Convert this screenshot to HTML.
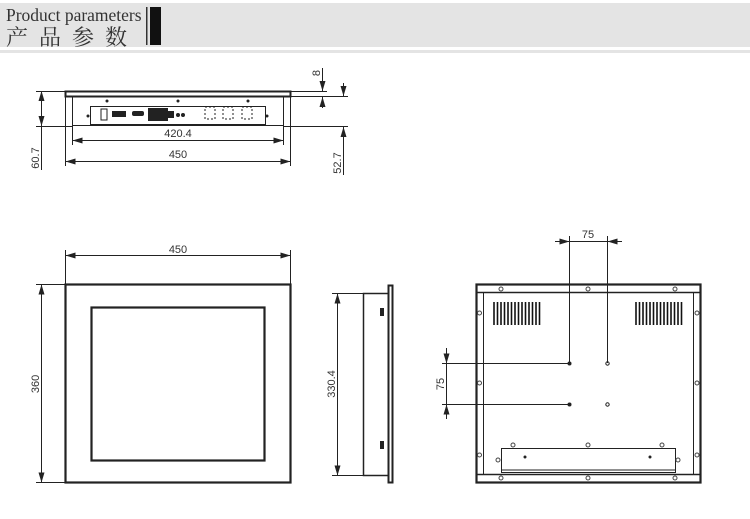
<!DOCTYPE html>
<html><head><meta charset="utf-8"><style>
html,body{margin:0;padding:0;background:#fff;width:750px;height:519px;overflow:hidden}
svg{display:block}
text{font-family:"Liberation Sans","DejaVu Sans",sans-serif;fill:#333}
</style></head><body>
<svg width="750" height="519" viewBox="0 0 750 519" xmlns="http://www.w3.org/2000/svg">
<defs>
<marker id="a" viewBox="0 0 10 6" refX="10" refY="3" markerWidth="10" markerHeight="6" orient="auto-start-reverse" markerUnits="userSpaceOnUse"><path d="M0,0L10,3L0,6z" fill="#222"/></marker>
</defs>
<rect x="0" y="3" width="750" height="44" fill="#e4e4e4"/>
<rect x="0" y="50" width="750" height="3" fill="#e4e4e4"/>
<text x="6" y="21" style="font-family:'Liberation Serif',serif" font-size="17.5" fill="#444">Product parameters</text>
<text x="6" y="45" style="font-family:'Liberation Serif','Noto Serif CJK SC',serif;letter-spacing:11px" font-size="22" fill="#444">产品参数</text>
<rect x="146" y="7" width="1.5" height="38" fill="#333"/>
<rect x="150" y="7" width="11" height="38" fill="#111"/>

<g stroke="#222" fill="none" stroke-width="1">
<rect x="65.5" y="91.5" width="225" height="5" stroke-width="2"/>
<rect x="72.5" y="96.5" width="211" height="29"/>
<rect x="90.5" y="106.5" width="175" height="18"/>
<line x1="36" y1="91.5" x2="65" y2="91.5"/><line x1="36" y1="126.5" x2="72" y2="126.5"/>
<line x1="41.5" y1="91" x2="41.5" y2="126" marker-start="url(#a)" marker-end="url(#a)"/>
<line x1="41.5" y1="126" x2="41.5" y2="170"/>
<line x1="72.5" y1="126" x2="72.5" y2="145"/><line x1="283.5" y1="126" x2="283.5" y2="145"/>
<line x1="72.5" y1="140.5" x2="283.5" y2="140.5" marker-start="url(#a)" marker-end="url(#a)"/>
<line x1="65.5" y1="96" x2="65.5" y2="166"/><line x1="290.5" y1="96" x2="290.5" y2="166"/>
<line x1="65.5" y1="161.5" x2="290.5" y2="161.5" marker-start="url(#a)" marker-end="url(#a)"/>
<line x1="290" y1="91.5" x2="327" y2="91.5"/><line x1="290" y1="96.5" x2="348" y2="96.5"/><line x1="283" y1="126.5" x2="348" y2="126.5"/>
<line x1="322.5" y1="68" x2="322.5" y2="91" marker-end="url(#a)"/><line x1="322.5" y1="108" x2="322.5" y2="97" marker-end="url(#a)"/>
<line x1="343.5" y1="83" x2="343.5" y2="96" marker-end="url(#a)"/><line x1="343.5" y1="175" x2="343.5" y2="127" marker-end="url(#a)"/>
<rect x="65.5" y="284.5" width="225" height="198" stroke-width="2.2"/>
<rect x="91.5" y="307.5" width="173" height="153" stroke-width="2.2"/>
<line x1="65.5" y1="250" x2="65.5" y2="284"/><line x1="290.5" y1="250" x2="290.5" y2="284"/>
<line x1="65.5" y1="255.5" x2="290.5" y2="255.5" marker-start="url(#a)" marker-end="url(#a)"/>
<line x1="36" y1="284.5" x2="65" y2="284.5"/><line x1="36" y1="482.5" x2="65" y2="482.5"/>
<line x1="41.5" y1="284.5" x2="41.5" y2="482.5" marker-start="url(#a)" marker-end="url(#a)"/>
<rect x="363.5" y="293.5" width="25" height="182" stroke-width="1.5"/>
<rect x="388.5" y="285.5" width="4" height="197" stroke-width="2"/>
<line x1="332" y1="293.5" x2="363" y2="293.5"/><line x1="332" y1="475.5" x2="363" y2="475.5"/>
<line x1="337.5" y1="293.5" x2="337.5" y2="475.5" marker-start="url(#a)" marker-end="url(#a)"/>
<rect x="476.5" y="284.5" width="224" height="198" stroke-width="2.2"/>
<line x1="476" y1="292.5" x2="700" y2="292.5" stroke-width="1.5"/>
<line x1="483.5" y1="292" x2="483.5" y2="474"/><line x1="693.5" y1="292" x2="693.5" y2="474"/>
<line x1="476" y1="474.5" x2="700" y2="474.5" stroke-width="1.5"/>
<rect x="501.5" y="448.5" width="174" height="24"/>
<line x1="501" y1="470" x2="675" y2="470"/>
<line x1="569.5" y1="236" x2="569.5" y2="363"/><line x1="607.5" y1="236" x2="607.5" y2="363"/>
<line x1="555" y1="241.5" x2="569.5" y2="241.5" marker-end="url(#a)"/><line x1="622" y1="241.5" x2="607.5" y2="241.5" marker-end="url(#a)"/>
<line x1="569.5" y1="241.5" x2="607.5" y2="241.5"/>
<line x1="442" y1="363.5" x2="569" y2="363.5"/><line x1="442" y1="404.5" x2="569" y2="404.5"/>
<line x1="446.5" y1="348" x2="446.5" y2="363.5" marker-end="url(#a)"/><line x1="446.5" y1="419" x2="446.5" y2="404.5" marker-end="url(#a)"/>
<line x1="446.5" y1="363.5" x2="446.5" y2="404.5"/>
</g>
<g fill="#222">
<rect x="101" y="109" width="6" height="11" fill="none" stroke="#222"/>
<rect x="112" y="111" width="14" height="6"/><rect x="132" y="111" width="12" height="5" rx="2"/>
<rect x="148" y="108" width="20" height="13"/><rect x="167" y="111" width="7" height="7"/>
<circle cx="178" cy="115" r="2"/><circle cx="183" cy="115" r="2"/>
<rect x="205" y="107" width="10" height="12" fill="none" stroke="#222" stroke-dasharray="2 2"/>
<rect x="223" y="107" width="10" height="12" fill="none" stroke="#222" stroke-dasharray="2 2"/>
<rect x="242" y="107" width="10" height="12" fill="none" stroke="#222" stroke-dasharray="2 2"/>
<circle cx="107" cy="101" r="1.5"/><circle cx="178" cy="101" r="1.5"/><circle cx="248" cy="101" r="1.5"/>
<circle cx="88" cy="116" r="1.5"/><circle cx="267" cy="116" r="1.5"/>
<rect x="380" y="308" width="4" height="8"/><rect x="380" y="441" width="4" height="8"/>
<circle cx="569.5" cy="363.5" r="2"/><circle cx="569.5" cy="404.5" r="2"/>
<circle cx="607.5" cy="363.5" r="1.7" fill="none" stroke="#222"/><circle cx="607.5" cy="404.5" r="1.7" fill="none" stroke="#222"/>
<circle cx="525" cy="457" r="1.5"/><circle cx="650" cy="457" r="1.5"/>
</g>
<g fill="none" stroke="#444" stroke-width="1">
<circle cx="501" cy="289" r="2"/><circle cx="588" cy="289" r="2"/><circle cx="675" cy="289" r="2"/>
<circle cx="501" cy="478" r="2"/><circle cx="588" cy="478" r="2"/><circle cx="675" cy="478" r="2"/>
<circle cx="479.5" cy="313" r="2"/><circle cx="479.5" cy="383" r="2"/><circle cx="479.5" cy="455" r="2"/>
<circle cx="697" cy="313" r="2"/><circle cx="697" cy="383" r="2"/><circle cx="697" cy="455" r="2"/>
<circle cx="498" cy="460" r="2"/><circle cx="678" cy="460" r="2"/>
<circle cx="513" cy="445" r="2"/><circle cx="588" cy="445" r="2"/><circle cx="662" cy="445" r="2"/>
</g>
<g stroke="#111" stroke-width="1.6">
<path d="M494 302v23M497.5 302v23M501 302v23M504.5 302v23M508 302v23M511.5 302v23M515 302v23M518.5 302v23M522 302v23M525.5 302v23M529 302v23M532.5 302v23M536 302v23M539.5 302v23"/>
<path d="M636 302v23M639.5 302v23M643 302v23M646.5 302v23M650 302v23M653.5 302v23M657 302v23M660.5 302v23M664 302v23M667.5 302v23M671 302v23M674.5 302v23M678 302v23M681.5 302v23"/>
</g>
<g fill="#444" style="font-family:'DejaVu Sans Mono',monospace" font-size="11">
<text x="178" y="137" text-anchor="middle">420.4</text>
<text x="178" y="158" text-anchor="middle">450</text>
<text x="178" y="253" text-anchor="middle">450</text>
<text x="588" y="238" text-anchor="middle">75</text>
<text transform="translate(39,158) rotate(-90)" text-anchor="middle">60.7</text>
<text transform="translate(341,163) rotate(-90)" text-anchor="middle">52.7</text>
<text transform="translate(320,73) rotate(-90)" text-anchor="middle">8</text>
<text transform="translate(39,384) rotate(-90)" text-anchor="middle">360</text>
<text transform="translate(335,384) rotate(-90)" text-anchor="middle">330.4</text>
<text transform="translate(444,384) rotate(-90)" text-anchor="middle">75</text>
</g>
</svg>
</body></html>
